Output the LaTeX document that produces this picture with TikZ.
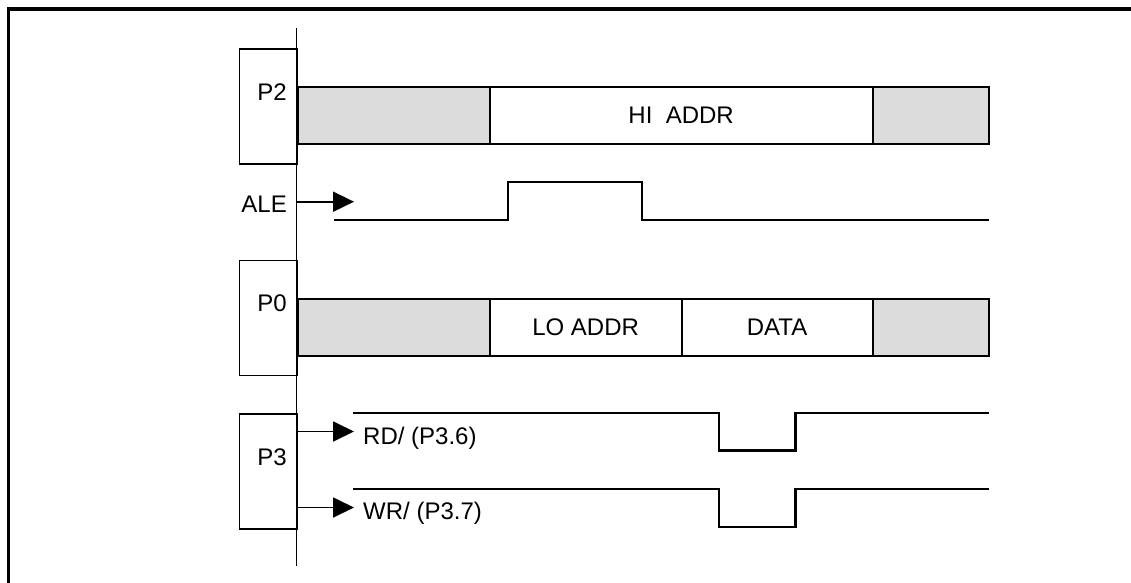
\documentclass[tikz,border=0pt]{standalone}
\usepackage{fontspec}
\setmainfont{Liberation Sans}
\usetikzlibrary{arrows.meta}
\definecolor{busgray}{HTML}{DCDCDC}
\begin{document}
\begin{tikzpicture}[x=1pt,y=-1pt,
  lbl/.style={font=\fontsize{24}{26}\selectfont, inner sep=0pt},
  portbox/.style={draw, line width=1.6pt, minimum width=58pt, minimum height=115pt, inner sep=0pt, anchor=north west},
  graybus/.style={draw, fill=busgray, line width=2.2pt, inner sep=0pt, anchor=north west, minimum height=57pt},
  whitebus/.style={draw, fill=white, line width=2.2pt, inner sep=0pt, anchor=north west, minimum height=57pt, font=\fontsize{24}{26}\selectfont},
  sig/.style={line width=2.2pt},
  inarrow/.style={line width=1.8pt, -{Triangle[length=21pt,width=20pt]}}]
\useasboundingbox (0,0) rectangle (1131,582);
% outer frame (only left and top edges are inside the picture)
\draw[line width=3.5pt] (8.7,700) -- (8.7,9) -- (1250,9);
% vertical axis
\coordinate (axtop) at (296.5,28);
\coordinate (axbot) at (296.5,566);
\draw[line width=1.6pt] (axtop) -- (axbot);
% port boxes
\node[portbox] (p2box) at (238.5,48) {};
\node[portbox] (p0box) at (238.5,259.5) {};
\node[portbox] (p3box) at (238.5,413) {};
\node[lbl] (p2) at (272,92) {P2};
\node[lbl] (p0) at (272,303) {P0};
\node[lbl] (p3) at (272,457) {P3};
% P2 bus
\node[graybus, minimum width=192pt] (p2a) at (296.5,86) {};
\node[whitebus, minimum width=383pt] (p2b) at (488.5,86) {HI\ \ ADDR};
\node[graybus, minimum width=116.5pt] (p2c) at (871.5,86) {};
% P0 bus
\node[graybus, minimum width=192pt] (p0a) at (296.5,298) {};
\node[whitebus, minimum width=192pt] (p0b) at (488.5,298) {LO ADDR};
\node[whitebus, minimum width=191pt] (p0c) at (680.5,298) {DATA};
\node[graybus, minimum width=116.5pt] (p0d) at (871.5,298) {};
% ALE
\node[lbl, anchor=east] (ale) at (287,204) {ALE};
\coordinate (aleax) at (296.5,201.7);
\coordinate (aletip) at (354,201.7);
\draw[inarrow] (aleax) -- (aletip);
\draw[sig] (334,220) -- (508,220) -- (508,182) -- (642,182) -- (642,220) -- (988.5,220);
% RD
\coordinate (rdax) at (296.5,431.5);
\coordinate (rdtip) at (354,431.5);
\draw[inarrow] (rdax) -- (rdtip);
\node[lbl, anchor=west] (rd) at (363,438) {RD/ (P3.6)};
\draw[sig] (353,413) -- (719,413) -- (719,450.5) -- (795.5,450.5) -- (795.5,413) -- (988.5,413);
% WR
\coordinate (wrax) at (296.5,507.5);
\coordinate (wrtip) at (354,507.5);
\draw[inarrow] (wrax) -- (wrtip);
\node[lbl, anchor=west] (wr) at (363,513.5) {WR/ (P3.7)};
\draw[sig] (353,489) -- (719,489) -- (719,527) -- (795.5,527) -- (795.5,489) -- (988.5,489);
\end{tikzpicture}
\end{document}
